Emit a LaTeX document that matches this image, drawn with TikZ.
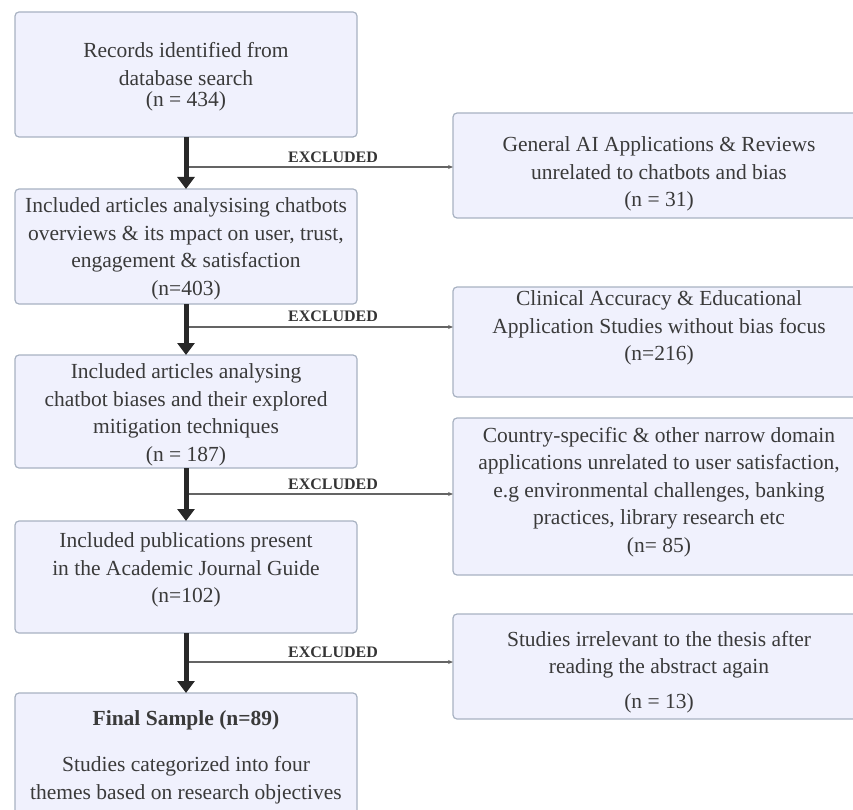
\documentclass[tikz,border=0pt]{standalone}
\usepackage{fontspec}
\setmainfont{Liberation Serif}
\usetikzlibrary{arrows.meta}
\definecolor{boxfill}{RGB}{240,241,253}
\definecolor{boxline}{RGB}{168,178,194}
\definecolor{txtgray}{RGB}{58,58,58}
\definecolor{thickc}{RGB}{40,40,40}
\definecolor{thinc}{RGB}{100,100,100}
\tikzset{
  boxshape/.style={draw=boxline, fill=boxfill, line width=1.2pt, rounded corners=4pt,
    inner sep=0pt, outer sep=0pt, anchor=north west},
  txt/.style={align=center, text=txtgray, inner sep=0pt,
    font=\fontsize{21.5}{27.5}\selectfont},
  flowarrow/.style={draw=thickc, line width=5pt, -{Triangle[length=12pt,width=17pt]}, shorten >=0pt},
  exarrow/.style={draw=thinc, line width=1.2pt, -{Stealth[length=5pt,width=4pt]}},
  exlabel/.style={text=txtgray!90!black, inner sep=0pt, font=\fontsize{16}{18}\selectfont\bfseries}
}
\begin{document}
\begin{tikzpicture}[x=1pt,y=-1pt]
\useasboundingbox (0,0) rectangle (853,810);
% left boxes
\node[boxshape, minimum width=342pt, minimum height=125pt] (b1) at (15,12) {};
\node[boxshape, minimum width=342pt, minimum height=115pt] (b2) at (15,189) {};
\node[boxshape, minimum width=342pt, minimum height=113pt] (b3) at (15,355) {};
\node[boxshape, minimum width=342pt, minimum height=112pt] (b4) at (15,521) {};
\node[boxshape, minimum width=342pt, minimum height=140pt] (b5) at (15,693) {};
% right boxes
\node[boxshape, minimum width=412pt, minimum height=105pt] (r1) at (453,113) {};
\node[boxshape, minimum width=412pt, minimum height=110pt] (r2) at (453,287) {};
\node[boxshape, minimum width=412pt, minimum height=157pt] (r3) at (453,418) {};
\node[boxshape, minimum width=412pt, minimum height=105pt] (r4) at (453,614) {};
% texts
\node[txt] (t1) at (186,77) {Records identified from\\database search\\[-6pt](n = 434)};
\node[txt] (t2) at (186,249) {Included articles analysising chatbots\\overviews \& its mpact on user, trust,\\engagement \& satisfaction\\(n=403)};
\node[txt] (t3) at (186,415) {Included articles analysing\\chatbot biases and their explored\\mitigation techniques\\(n = 187)};
\node[txt] (t4) at (186,570) {Included publications present\\in the Academic Journal Guide\\(n=102)};
\node[txt] (t5) at (186,757) {\textbf{Final Sample (n=89)}\\[19pt]Studies categorized into four\\themes based on research objectives};
\node[txt] (u1) at (659,174) {General AI Applications \& Reviews\\unrelated to chatbots and bias\\(n = 31)};
\node[txt] (u2) at (659,328) {Clinical Accuracy \& Educational\\Application Studies without bias focus\\(n=216)};
\node[txt] (u3) at (659,492) {Country-specific \& other narrow domain\\applications unrelated to user satisfaction,\\e.g environmental challenges, banking\\practices, library research etc\\(n= 85)};
\node[txt] (u4) at (659,672) {Studies irrelevant to the thesis after\\reading the abstract again\\[7pt](n = 13)};
% junctions
\coordinate (j1) at (186,167);
\coordinate (j2) at (186,327);
\coordinate (j3) at (186,494);
\coordinate (j4) at (186,662);
% excluded arrows
\draw[exarrow] (j1) -- (j1 -| r1.west);
\draw[exarrow] (j2) -- (j2 -| r2.west);
\draw[exarrow] (j3) -- (j3 -| r3.west);
\draw[exarrow] (j4) -- (j4 -| r4.west);
\node[exlabel] (e1) at (333,157) {EXCLUDED};
\node[exlabel] (e2) at (333,316) {EXCLUDED};
\node[exlabel] (e3) at (333,484) {EXCLUDED};
\node[exlabel] (e4) at (333,652) {EXCLUDED};
% main flow
\draw[flowarrow] (b1.south) -- (b2.north);
\draw[flowarrow] (b2.south) -- (b3.north);
\draw[flowarrow] (b3.south) -- (b4.north);
\draw[flowarrow] (b4.south) -- (b5.north);
\end{tikzpicture}
\end{document}
